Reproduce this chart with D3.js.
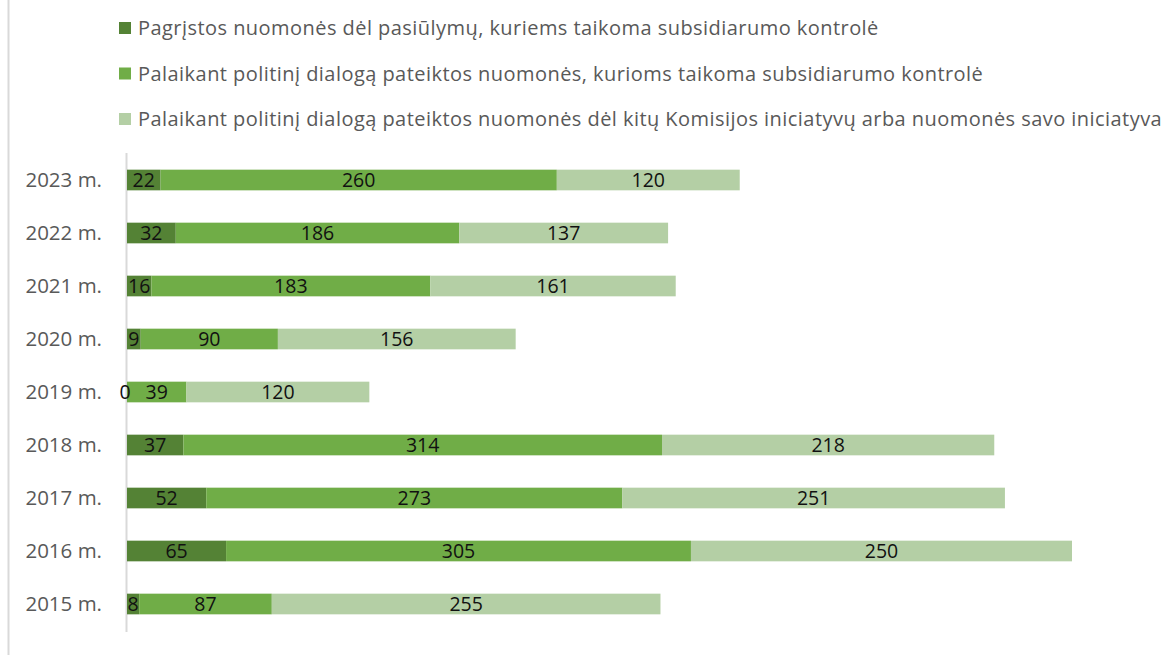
<!DOCTYPE html>
<html>
<head>
<meta charset="utf-8">
<script src="https://d3js.org/d3.v7.min.js"></script>
<style>
  body { margin: 0; background: #fff; }
  text { font-family: "Open Sans", Lato, sans-serif; }
</style>
</head>
<body>
<div id="chart"></div>
<script>
// duomenys
var years = ["2023 m.", "2022 m.", "2021 m.", "2020 m.", "2019 m.", "2018 m.", "2017 m.", "2016 m.", "2015 m."];
var pagristos = [22, 32, 16, 9, 0, 37, 52, 65, 8];
var subsid = [260, 186, 183, 90, 39, 314, 273, 305, 87];
var kitos = [120, 137, 161, 156, 120, 218, 251, 250, 255];
var seriesNames = [
  "Pagrįstos nuomonės dėl pasiūlymų, kuriems taikoma subsidiarumo kontrolė",
  "Palaikant politinį dialogą pateiktos nuomonės, kurioms taikoma subsidiarumo kontrolė",
  "Palaikant politinį dialogą pateiktos nuomonės dėl kitų Komisijos iniciatyvų arba nuomonės savo iniciatyva"
];
var colors = ["#548235", "#70ad47", "#b4cfa5"];

var w = 1165, h = 657;
var svg = d3.select("#chart").append("svg")
  .attr("width", w)
  .attr("height", h);

// kairysis rėmelis
svg.append("line")
  .attr("x1", 8.5).attr("x2", 8.5)
  .attr("y1", 0).attr("y2", 655)
  .attr("stroke", "#d9d9d9").attr("stroke-width", 2);

var values = [pagristos, subsid, kitos];
var rows = years.map(function(y, i) {
  return { year: y, v: values.map(function(s) { return s[i]; }) };
});
var totals = rows.map(function(r) { return d3.sum(r.v); });

var x = d3.scaleLinear()
  .domain([0, d3.max(totals)])
  .range([127, 1072]);

var y = d3.scaleBand()
  .domain(years)
  .range([153.5, 630.5])
  .paddingInner(0.61)
  .paddingOuter(0.305);

// juostos
var bars = svg.append("g");
var labels = svg.append("g"); // vėliau, virš ašies

svg.append("line")
  .attr("x1", 126.5).attr("x2", 126.5)
  .attr("y1", 153).attr("y2", 632)
  .attr("stroke", "#d9d9d9").attr("stroke-width", 2)
  .lower();
bars.raise();
labels.raise();

rows.forEach(function(r) {
  var cum = 0;
  r.v.forEach(function(val, k) {
    var x0 = x(cum), x1 = x(cum + val);
    bars.append("rect")
      .attr("x", x0)
      .attr("y", y(r.year))
      .attr("width", x1 - x0)
      .attr("height", y.bandwidth())
      .attr("fill", colors[k]);
    labels.append("text")
      .attr("x", (x0 + x1) / 2 - (val === 0 ? 2 : 0))
      .attr("y", y(r.year) + y.bandwidth() / 2)
      .attr("dy", "0.36em")
      .attr("text-anchor", "middle")
      .attr("fill", "#111")
      .style("font-size", "19.5px")
      .text(val);
    cum += val;
  });
});

svg.selectAll("text.cat")
  .data(years)
  .enter()
  .append("text")
  .attr("class", "cat")
  .attr("x", 102)
  .attr("y", function(d) { return y(d) + y.bandwidth() / 2; })
  .attr("dy", "0.36em")
  .attr("text-anchor", "end")
  .attr("fill", "#595959")
  .style("font-size", "20.5px")
  .text(function(d) { return d; });

// legenda
var leg = svg.selectAll("g.leg")
  .data(seriesNames)
  .enter()
  .append("g")
  .attr("class", "leg")
  .attr("transform", function(d, i) { return "translate(119," + (28 + i * 45.5) + ")"; });
leg.append("rect")
  .attr("x", 0).attr("y", -6)
  .attr("width", 12).attr("height", 12)
  .attr("fill", function(d, i) { return colors[i]; });
leg.append("text")
  .attr("x", 19)
  .attr("y", 0)
  .attr("dy", "0.36em")
  .attr("fill", "#595959")
  .style("font-size", "20px")
  .style("letter-spacing", "0.45px")
  .text(function(d) { return d; });
</script>
</body>
</html>
